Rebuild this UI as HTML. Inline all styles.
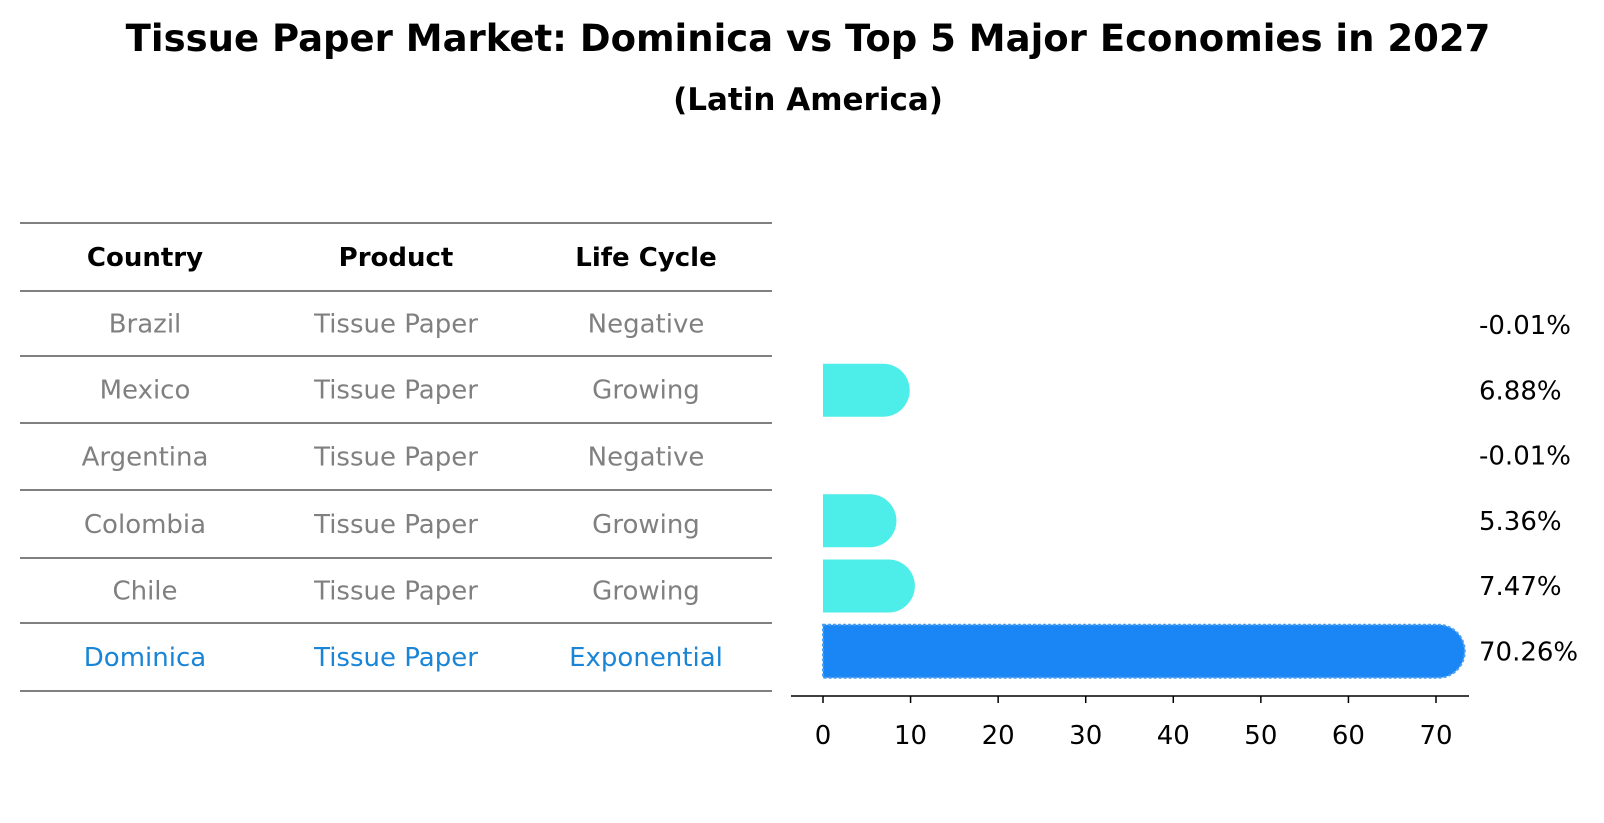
<!DOCTYPE html>
<html><head><meta charset="utf-8"><style>
body{margin:0;background:#fff;}
svg{display:block;font-family:"Liberation Sans","DejaVu Sans",sans-serif;}
</style></head><body>
<svg id="chart" width="1604" height="823" viewBox="0 0 1604 823" xmlns="http://www.w3.org/2000/svg">
<text x="808" y="51" text-anchor="middle" font-size="37" font-weight="bold" font-family="DejaVu Sans, sans-serif">Tissue Paper Market: Dominica vs Top 5 Major Economies in 2027</text>
<text x="808" y="110" text-anchor="middle" font-size="31" font-weight="bold" font-family="DejaVu Sans, sans-serif">(Latin America)</text>
<g id="table"></g>
<g id="bars"></g>
</svg>
<script>
const countries=["Brazil","Mexico","Argentina","Colombia","Chile","Dominica"];
const products=["Tissue Paper","Tissue Paper","Tissue Paper","Tissue Paper","Tissue Paper","Tissue Paper"];
const lifeCycles=["Negative","Growing","Negative","Growing","Growing","Exponential"];
const growthValues=[-0.01,6.88,-0.01,5.36,7.47,70.26];
const valueLabels=["-0.01%","6.88%","-0.01%","5.36%","7.47%","70.26%"];
const xTicks=[0,10,20,30,40,50,60,70];
const headers=["Country","Product","Life Cycle"];

const NS="http://www.w3.org/2000/svg";
function mk(t,a,p){const e=document.createElementNS(NS,t);for(const k in a)e.setAttribute(k,a[k]);p.appendChild(e);return e;}
const tbl=document.getElementById('table');
const lines=[223,291,356,423,490,558,623,691];
const colX=[145,396,646];
lines.forEach(y=>{const l=mk('line',{x1:20,x2:772,y1:y,y2:y,stroke:'#000','stroke-width':1},tbl);

});
headers.forEach((h,i)=>{const t=mk('text',{x:colX[i],y:(lines[0]+lines[1])/2+9,'text-anchor':'middle','font-size':26,'font-weight':'bold','font-family':'DejaVu Sans, sans-serif'},tbl);t.textContent=h;

});
countries.forEach((c,r)=>{const y=(lines[r+1]+lines[r+2])/2+9;const col=c==="Dominica"?'#1a85d6':'#808080';
[c,products[r],lifeCycles[r]].forEach((v,i)=>{const t=mk('text',{x:colX[i],y:y,'text-anchor':'middle','font-size':26,fill:col,'font-family':'DejaVu Sans, sans-serif'},tbl);t.textContent=v;

});});

const g=document.getElementById('bars');
const x0=823,pxPer=(1436-823)/70;
function xs(v){return x0+v*pxPer;}
function ys(i){return 325+i*65.25;}
const bh=53,r=26.5;
growthValues.forEach((v,i)=>{
 const cy=ys(i);const isD=countries[i]==="Dominica";
 if(v>0){
  const xe=xs(v);
  const d=`M${x0},${cy-bh/2} L${xe},${cy-bh/2} A${r},${r} 0 0 1 ${xe},${cy+bh/2} L${x0},${cy+bh/2} Z`;
  const p=mk('path',{d:d,fill:isD?'#1a85f5':'#4deeea',stroke:isD?'#4a9ff0':'none','stroke-width':isD?2:0,'stroke-dasharray':isD?'3 2':''},g);
  
  
 }
 const t=mk('text',{x:1479,y:cy+9,'font-size':26,'font-family':'DejaVu Sans, sans-serif'},g);t.textContent=valueLabels[i];
 
 
});
const ax=mk('line',{x1:791,x2:1469,y1:696,y2:696,stroke:'#000','stroke-width':1.5},g);


xTicks.forEach(v=>{const x=xs(v);const tk=mk('line',{x1:x,x2:x,y1:696,y2:703,stroke:'#000','stroke-width':1.5},g);


const t=mk('text',{x:x,y:744,'text-anchor':'middle','font-size':26,'font-family':'DejaVu Sans, sans-serif'},g);t.textContent=v;

});
</script>
</body></html>
